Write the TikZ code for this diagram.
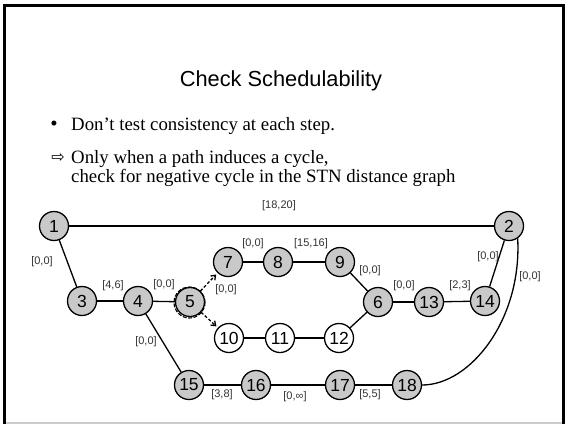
\documentclass[tikz,border=0pt]{standalone}
\usepackage{fontspec}
\setmainfont{Liberation Serif}
\setsansfont{Liberation Sans}
\newfontfamily\djv{DejaVu Sans}
\usetikzlibrary{arrows.meta}
\definecolor{nodefill}{gray}{0.79}
\definecolor{lblcol}{gray}{0.2}
\tikzset{
  vtx/.style={circle, draw, line width=1.3pt, fill=nodefill, minimum size=29pt, inner sep=0pt,
    font=\sffamily\fontsize{17.5}{17.5}\selectfont},
  wvtx/.style={vtx, fill=white},
  edge/.style={line width=1.3pt},
  lbl/.style={font=\sffamily\fontsize{11}{11}\selectfont, text=lblcol, inner sep=0pt},
  darr/.style={line width=1.3pt, dash pattern=on 3pt off 2pt, -{Straight Barb[length=4pt,width=6pt]}, shorten >=2pt},
  bodytext/.style={font=\fontsize{18.8}{22}\selectfont, inner sep=0pt, anchor=base west}
}
\begin{document}
\begin{tikzpicture}[x=1pt,y=-1pt]
\useasboundingbox (0,0) rectangle (565,424);
\fill[white] (0,0) rectangle (565,424);
% frame
\draw[gray!40, line width=1.2pt] (5,423) -- (563,423);
\draw[line width=3pt] (4.5,424) -- (4.5,5.5) -- (563.5,5.5) -- (563.5,424);
% title
\node[font=\sffamily\fontsize{21.8}{24}\selectfont, anchor=base, inner sep=0pt] (title) at (281,86.5) {Check Schedulability};
% bullets
\node[font=\fontsize{21}{22}\selectfont, anchor=base, inner sep=0pt] (bul) at (54,130) {•};
\node[bodytext] (t1) at (71,130) {Don’t test consistency at each step.};
\node[font=\djv\fontsize{16}{16}\selectfont, anchor=base, inner sep=0pt] (arr) at (58,162) {⇨};
\node[bodytext] (t2) at (71,163) {Only when a path induces a cycle,};
\node[bodytext] (t3) at (71,182) {check for negative cycle in the STN distance graph};
% nodes
\node[vtx] (n1) at (54,226) {1};
\node[vtx] (n2) at (509,226) {2};
\node[vtx] (n3) at (82,301) {3};
\node[vtx] (n4) at (138,301) {4};
\node[vtx] (n5) at (190,302) {5};
\node[vtx] (n7) at (228,262) {7};
\node[vtx] (n8) at (278,262) {8};
\node[vtx] (n9) at (340,262) {9};
\node[vtx] (n6) at (378,302) {6};
\node[vtx] (n13) at (429,302) {13};
\node[vtx] (n14) at (485,301) {14};
\node[wvtx] (n10) at (229,338) {10};
\node[wvtx] (n11) at (280,338) {11};
\node[wvtx] (n12) at (339,338) {12};
\node[vtx] (n15) at (189,385) {15};
\node[vtx] (n16) at (256,385) {16};
\node[vtx] (n17) at (340,385) {17};
\node[vtx] (n18) at (407,385) {18};
% sketchy dashed ring around 5
\draw[line width=1.1pt, dash pattern=on 4pt off 1.5pt] (189.5,302.5) circle (15.5pt);
% edges
\draw[edge] (n1) -- (n2);
\draw[edge] (n1) -- (n3);
\draw[edge] (n3) -- (n4);
\draw[edge] (n4) -- (n5);
\draw[edge] (n4) -- (n15);
\draw[edge] (n7) -- (n8);
\draw[edge] (n8) -- (n9);
\draw[edge] (n9) -- (n6);
\draw[edge] (n10) -- (n11);
\draw[edge] (n11) -- (n12);
\draw[edge] (n12) -- (n6);
\draw[edge] (n6) -- (n13);
\draw[edge] (n13) -- (n14);
\draw[edge] (n14) -- (n2);
\draw[edge] (n15) -- (n16);
\draw[edge] (n16) -- (n17);
\draw[edge] (n17) -- (n18);
\draw[edge] (n2.-55) .. controls (522,320) and (470,385) .. (n18);
\draw[darr] (n5) -- (n7);
\draw[darr] (n5) -- (n10);
% labels
\node[lbl] (l1) at (42,262) {[0,0]};
\node[lbl] (l2) at (113,286) {[4,6]};
\node[lbl] (l3) at (164,285) {[0,0]};
\node[lbl] (l4) at (226,290) {[0,0]};
\node[lbl] (l5) at (253,244) {[0,0]};
\node[lbl] (l6) at (311,244) {[15,16]};
\node[lbl] (l7) at (279,206) {[18,20]};
\node[lbl] (l8) at (370,271) {[0,0]};
\node[lbl] (l9) at (404,286) {[0,0]};
\node[lbl] (l10) at (460,286) {[2,3]};
\node[lbl] (l11) at (488,257) {[0,0]};
\node[lbl] (l12) at (530,277) {[0,0]};
\node[lbl] (l13) at (146,342) {[0,0]};
\node[lbl] (l14) at (222,395) {[3,8]};
\node[lbl] (l15) at (295,397) {[0,∞]};
\node[lbl] (l16) at (370,395) {[5,5]};
\end{tikzpicture}
\end{document}
